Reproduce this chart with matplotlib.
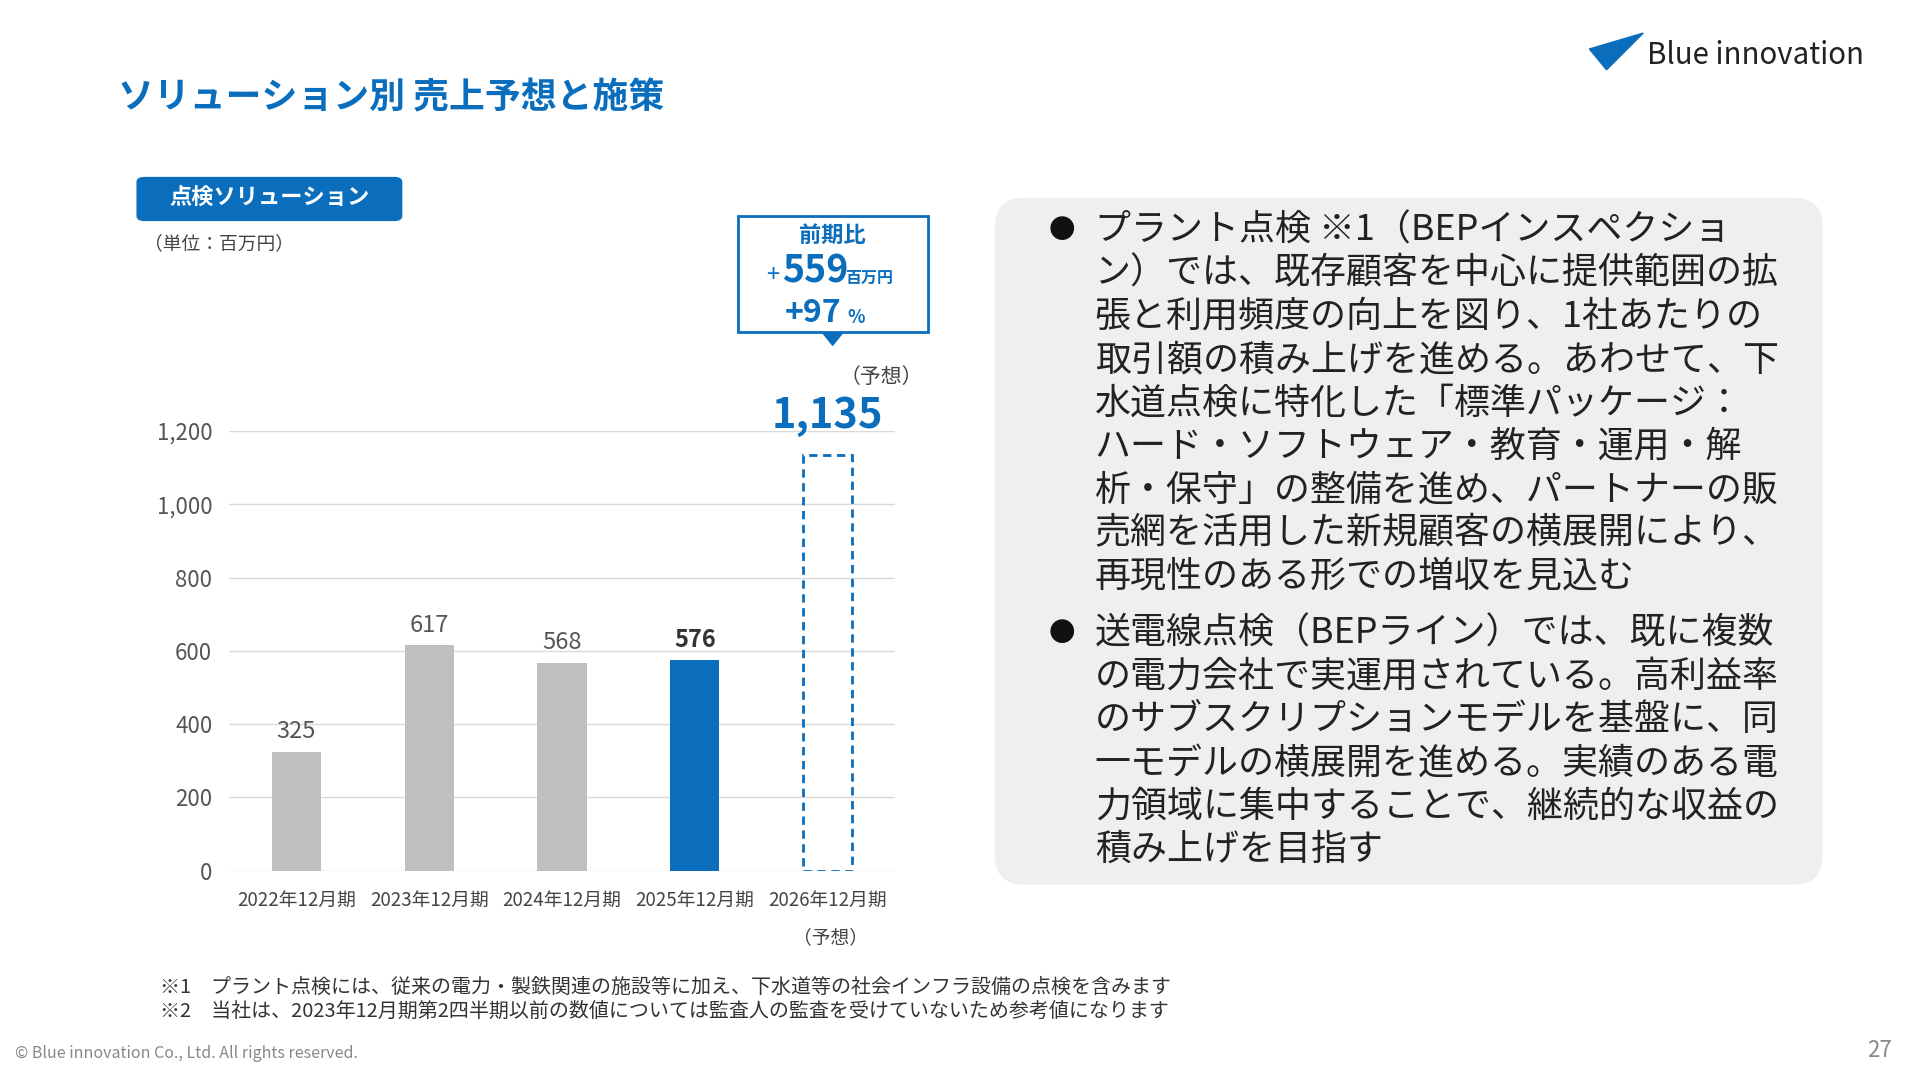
import matplotlib
matplotlib.use("Agg")
import matplotlib.pyplot as plt
from matplotlib.patches import FancyBboxPatch, Polygon, Rectangle

plt.rcParams['font.family'] = ['Noto Sans CJK JP', 'DejaVu Sans']

periods = ["2022年12月期", "2023年12月期", "2024年12月期", "2025年12月期", "2026年12月期"]
sales = [325, 617, 568, 576, 1135]
yticks = [0, 200, 400, 600, 800, 1000, 1200]
bullet1 = ["プラント点検 ※1（BEPインスペクショ", "ン）では、既存顧客を中心に提供範囲の拡",
           "張と利用頻度の向上を図り、1社あたりの", "取引額の積み上げを進める。あわせて、下",
           "水道点検に特化した「標準パッケージ：", "ハード・ソフトウェア・教育・運用・解",
           "析・保守」の整備を進め、パートナーの販", "売網を活用した新規顧客の横展開により、",
           "再現性のある形での増収を見込む"]
bullet2 = ["送電線点検（BEPライン）では、既に複数", "の電力会社で実運用されている。高利益率",
           "のサブスクリプションモデルを基盤に、同", "一モデルの横展開を進める。実績のある電",
           "力領域に集中することで、継続的な収益の", "積み上げを目指す"]

BLUE = "#0a6ebd"
GREY = "#bfbfbf"
W, H = 1568, 882

fig = plt.figure(figsize=(19.2, 10.8), dpi=100)


def fx(x):
    return x / W


def fy(y):
    return 1 - y / H


def t(x, y, s, **kw):
    fig.text(fx(x), fy(y), s, **kw)


# header
t(96, 80, "ソリューション別 売上予想と施策", fontsize=25.8, color=BLUE, fontweight="bold", va="center")
fig.patches.append(Polygon([(fx(1298), fy(40)), (fx(1342), fy(27)), (fx(1312), fy(57))],
                           closed=True, transform=fig.transFigure, color=BLUE))
t(1345, 45, "Blue innovation", fontsize=21.2, color="#222222", va="center")

# tag
fig.patches.append(FancyBboxPatch((fx(112), fy(180)), fx(216), 35 / H,
                                  boxstyle="round,pad=0,rounding_size=0.004",
                                  transform=fig.transFigure, color=BLUE))
t(220, 162, "点検ソリューション", fontsize=16, color="white", fontweight="bold", ha="center", va="center")
t(118, 199, "（単位：百万円）", fontsize=13.5, color="#444444", va="center")

# chart
ax = fig.add_axes([fx(187), fy(711), fx(731) - fx(187), (711 - 352) / H])
x = list(range(len(periods)))
colors = [GREY, GREY, GREY, BLUE]
ax.bar(x[:4], sales[:4], width=0.37, color=colors, zorder=3)
ax.bar(x[4], sales[4], width=0.37, facecolor="none", edgecolor=BLUE, linestyle=(0, (3, 2)),
       linewidth=2, zorder=3)
ax.set_xlim(-0.507, 4.507)
ax.set_ylim(0, 1200)
ax.set_yticks(yticks)
ax.set_yticklabels([f"{v:,}" for v in yticks], fontsize=16, color="#555555")
ax.set_xticks(x)
ax.set_xticklabels(periods, fontsize=13.5, color="#444444")
ax.tick_params(length=0, pad=12)
ax.tick_params(axis="x", pad=14)
ax.grid(axis="y", color="#d9d9d9", linewidth=1, zorder=0)
for s in ax.spines.values():
    s.set_visible(False)
for i in range(3):
    ax.text(i, sales[i] + 22, f"{sales[i]:,}", ha="center", va="bottom", fontsize=17, color="#555555")
ax.text(3, sales[3] + 22, f"{sales[3]:,}", ha="center", va="bottom", fontsize=17,
        color="#333333", fontweight="bold")
ax.text(4, sales[4] + 50, f"{sales[4]:,}", ha="center", va="bottom", fontsize=30,
        color=BLUE, fontweight="bold")
t(720, 308, "（予想）", fontsize=15, color="#444444", ha="center", va="center")
t(678, 766, "（予想）", fontsize=13.5, color="#444444", ha="center", va="center")

# callout
fig.patches.append(Rectangle((fx(603), fy(271)), fx(155), 95 / H, transform=fig.transFigure,
                             facecolor="white", edgecolor=BLUE, linewidth=2))
fig.patches.append(Polygon([(fx(672), fy(272)), (fx(688), fy(272)), (fx(680), fy(282))],
                           closed=True, transform=fig.transFigure, color=BLUE))
t(680, 192, "前期比", fontsize=16, color=BLUE, fontweight="bold", ha="center", va="center")
t(626, 225, "+", fontsize=17, color=BLUE, va="center")
t(639, 221, "559", fontsize=27, color=BLUE, fontweight="bold", va="center")
t(690, 227, "百万円", fontsize=11.5, color=BLUE, fontweight="bold", va="center")
t(641, 256, "+97", fontsize=23, color=BLUE, fontweight="bold", va="center")
t(692, 259, "%", fontsize=13, color=BLUE, fontweight="bold", va="center")

# right panel
fig.patches.append(FancyBboxPatch((fx(813), fy(722)), fx(1488 - 813), (722 - 162) / H,
                                  boxstyle="round,pad=0,rounding_size=0.015",
                                  transform=fig.transFigure, color="#efefef",
                                  mutation_aspect=W / H))
y0 = 188
for i, line in enumerate(bullet1):
    t(894, y0 + 35.4 * i, line, fontsize=25.9, color="#222222", va="center")
t(856, y0, "●", fontsize=19, color="#111111", va="center")
y1 = 517
for i, line in enumerate(bullet2):
    t(894, y1 + 35.4 * i, line, fontsize=25.9, color="#222222", va="center")
t(856, y1, "●", fontsize=19, color="#111111", va="center")

# footnotes
t(131, 806, "※1　プラント点検には、従来の電力・製鉄関連の施設等に加え、下水道等の社会インフラ設備の点検を含みます",
  fontsize=14.4, color="#333333", va="center")
t(131, 826, "※2　当社は、2023年12月期第2四半期以前の数値については監査人の監査を受けていないため参考値になります",
  fontsize=14.4, color="#333333", va="center")
t(12, 860, "© Blue innovation Co., Ltd. All rights reserved.", fontsize=11.5, color="#888888", va="center")
t(1545, 858, "27", fontsize=16, color="#888888", ha="right", va="center")

fig.savefig("out.png", dpi=100, facecolor="white")
